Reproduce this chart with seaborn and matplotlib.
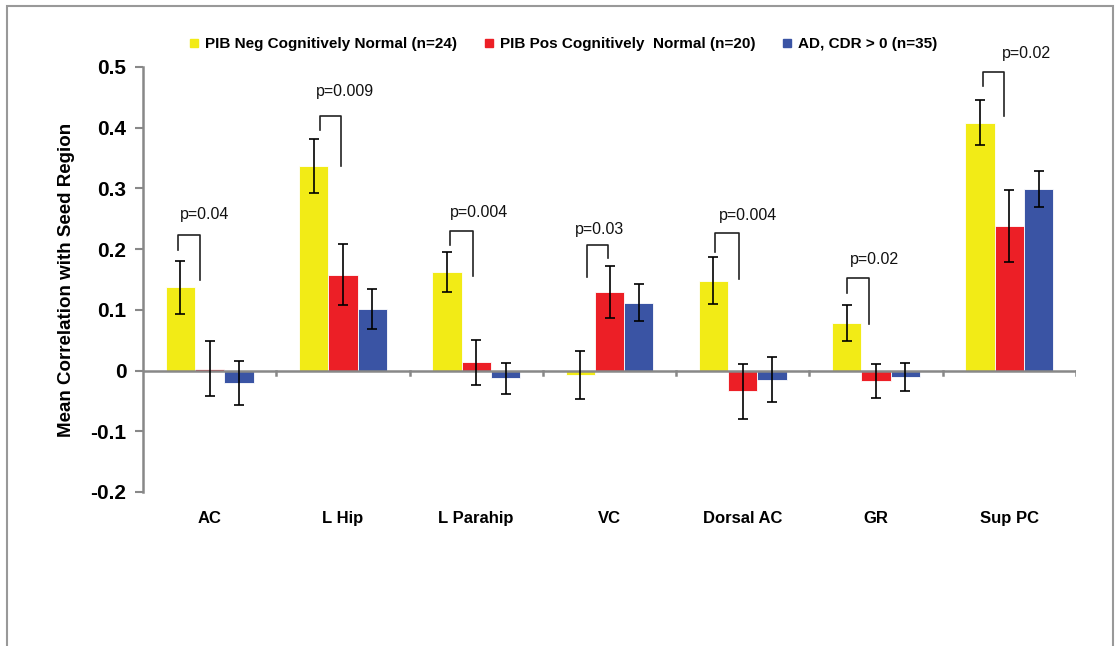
import matplotlib
matplotlib.use("Agg")
import matplotlib.pyplot as plt
import seaborn as sns
import pandas as pd
from matplotlib.lines import Line2D
from matplotlib.patches import Rectangle

regions = ["AC", "L Hip", "L Parahip", "VC", "Dorsal AC", "GR", "Sup PC"]
groups = [
    "PIB Neg Cognitively Normal (n=24)",
    "PIB Pos Cognitively  Normal (n=20)",
    "AD, CDR > 0 (n=35)",
]
pib_neg = [0.137, 0.337, 0.163, -0.007, 0.148, 0.078, 0.408]
pib_pos = [0.003, 0.158, 0.014, 0.129, -0.034, -0.018, 0.238]
ad = [-0.020, 0.102, -0.013, 0.112, -0.015, -0.010, 0.299]
pib_neg_err = [0.044, 0.044, 0.033, 0.040, 0.039, 0.030, 0.037]
pib_pos_err = [0.045, 0.050, 0.037, 0.043, 0.045, 0.028, 0.060]
ad_err = [0.036, 0.033, 0.025, 0.030, 0.037, 0.023, 0.029]
colors = ["#F2EB16", "#EC1F26", "#3A54A4"]

# p-value brackets: label, bracket top, left leg end, right leg end
p_labels = ["p=0.04", "p=0.009", "p=0.004", "p=0.03", "p=0.004", "p=0.02", "p=0.02"]
bracket_top = [0.223, 0.419, 0.230, 0.206, 0.226, 0.153, 0.492]
bracket_left_end = [0.198, 0.396, 0.206, 0.154, 0.196, 0.127, 0.468]
bracket_right_end = [0.149, 0.337, 0.155, 0.185, 0.151, 0.077, 0.419]

errors = [pib_neg_err, pib_pos_err, ad_err]
df = pd.DataFrame({
    "region": regions * 3,
    "group": [g for g in groups for _ in regions],
    "value": pib_neg + pib_pos + ad,
})

fig = plt.figure(figsize=(11.16, 6.46), dpi=100)
ax = fig.add_axes([0.1281, 0.2384, 0.9642 - 0.1281, 0.8963 - 0.2384])

sns.barplot(data=df, x="region", y="value", hue="group", order=regions,
            hue_order=groups, palette=colors, width=0.66, saturation=1,
            errorbar=None, edgecolor="white", linewidth=0.6, ax=ax,
            legend=False)

for cont, errs in zip(ax.containers, errors):
    xs = [b.get_x() + b.get_width() / 2 for b in cont]
    ys = [b.get_y() + b.get_height() for b in cont]
    ax.errorbar(xs, ys, yerr=errs, fmt="none", ecolor="black",
                elinewidth=1.2, capsize=3.5, capthick=1.2, zorder=5)

# brackets and p labels
lefts = [-0.24, -0.175, -0.20, -0.17, -0.205, -0.215, -0.20]
rights = [-0.075, -0.015, -0.024, -0.01, -0.03, -0.055, -0.04]
text_x = [-0.22, -0.20, -0.20, -0.256, -0.18, -0.20, -0.055]
text_y = [0.257, 0.459, 0.261, 0.232, 0.255, 0.183, 0.523]
for i, lab in enumerate(p_labels):
    xl, xr = i + lefts[i], i + rights[i]
    ax.plot([xl, xl, xr, xr],
            [bracket_left_end[i], bracket_top[i], bracket_top[i], bracket_right_end[i]],
            color="#222222", lw=1.2, clip_on=False, zorder=6)
    ax.text(i + text_x[i], text_y[i], lab, ha="left", va="center",
            fontsize=11.5, family="Liberation Sans", color="#111111", clip_on=False)

ax.set_xlim(-0.5, len(regions) - 0.5)
ax.set_ylim(-0.2, 0.5)
ax.set_yticks([-0.2, -0.1, 0, 0.1, 0.2, 0.3, 0.4, 0.5])
ax.set_yticklabels(["-0.2", "-0.1", "0", "0.1", "0.2", "0.3", "0.4", "0.5"],
                   fontsize=15, fontweight="bold", family="Liberation Sans")
ax.set_xticks(range(len(regions)))
ax.set_xticklabels(regions, fontsize=12, fontweight="bold", family="Liberation Sans")
ax.tick_params(axis="x", length=0, pad=14)
ax.tick_params(axis="y", length=6, width=1.5, color="#888888", pad=6)
ax.set_xlabel("")
ax.set_ylabel("Mean Correlation with Seed Region", fontsize=13.5,
              fontweight="bold", family="Liberation Sans", labelpad=11)

for s in ["top", "right", "bottom"]:
    ax.spines[s].set_visible(False)
ax.spines["left"].set_color("#888888")
ax.spines["left"].set_linewidth(1.8)
ax.axhline(0, color="#888888", lw=1.8, zorder=1)
for k in range(1, len(regions) + 1):
    ax.plot([k - 0.5, k - 0.5], [0, -0.008], color="#888888", lw=1.8, zorder=1)
ax.set_facecolor("white")

handles = [Line2D([0], [0], marker="s", linestyle="none", markersize=6,
                  markerfacecolor=c, markeredgecolor=c) for c in colors]
fig.legend(handles, groups, loc="center", bbox_to_anchor=(0.505, 0.932), ncol=3,
           frameon=False, handlelength=0.6, handletextpad=0.4, columnspacing=1.8,
           prop={"family": "Liberation Sans", "weight": "bold", "size": 11})

fig.patches.append(Rectangle((7 / 1116, -0.05), 1106 / 1116, 1.05 - 6 / 646,
                             transform=fig.transFigure, fill=False,
                             edgecolor="#999999", lw=1.5))

fig.savefig("out.png", dpi=100)
